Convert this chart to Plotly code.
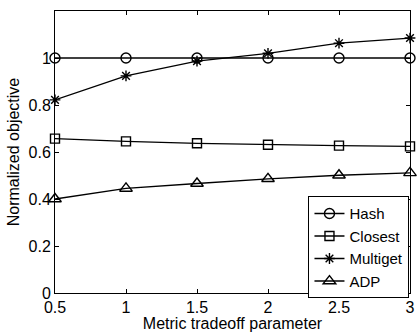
import plotly.graph_objects as go

x_vals = [0.5, 1, 1.5, 2, 2.5, 3]
hash_vals = [1.0, 1.0, 1.0, 1.0, 1.0, 1.0]
closest_vals = [0.657, 0.645, 0.637, 0.631, 0.627, 0.624]
multiget_vals = [0.822, 0.924, 0.987, 1.02, 1.063, 1.085]
adp_vals = [0.40, 0.445, 0.466, 0.486, 0.501, 0.511]

x_ticks = [0.5, 1, 1.5, 2, 2.5, 3]
x_ticktext = ["0.5", "1", "1.5", "2", "2.5", "3"]
y_ticks = [0, 0.2, 0.4, 0.6, 0.8, 1.0]
y_ticktext = ["0", "0.2", "0.4", "0.6", "0.8", "1"]

series = [
    ("Hash", hash_vals, "circle-open", 10),
    ("Closest", closest_vals, "square-open", 9),
    ("Multiget", multiget_vals, "asterisk-open", 9),
    ("ADP", adp_vals, "triangle-up-open", 11),
]

fig = go.Figure()
for name, vals, sym, size in series:
    fig.add_trace(go.Scatter(
        x=x_vals, y=vals, name=name, mode="lines+markers",
        line=dict(color="black", width=1.3),
        marker=dict(symbol=sym, size=size, color="black",
                    line=dict(color="black", width=1.4)),
        cliponaxis=False,
    ))

font = dict(family="Liberation Sans, Arial, sans-serif", size=16, color="black")
legend_font = dict(family="Liberation Sans, Arial, sans-serif", size=15, color="black")
axis_common = dict(
    showline=True, linecolor="black", linewidth=1, mirror="ticks",
    ticks="inside", ticklen=4, tickcolor="black", showgrid=False,
    zeroline=False, tickfont=font,
)
fig.update_layout(
    width=420, height=332,
    margin=dict(l=55, r=5, t=11, b=38),
    paper_bgcolor="white", plot_bgcolor="white",
    font=font,
    xaxis=dict(range=[0.5, 3], tickvals=x_ticks, ticktext=x_ticktext,
               title=dict(text="Metric tradeoff parameter", font=font, standoff=0),
               **axis_common),
    yaxis=dict(range=[0, 1.2], tickvals=y_ticks, ticktext=y_ticktext,
               title=dict(text="Normalized objective", font=font, standoff=4),
               **axis_common),
    legend=dict(x=0.714, y=0.343, xanchor="left", yanchor="top",
                bordercolor="black", borderwidth=1, bgcolor="white",
                font=legend_font, tracegroupgap=0, itemwidth=30),
    showlegend=True,
)
fig.write_html("out.html")
